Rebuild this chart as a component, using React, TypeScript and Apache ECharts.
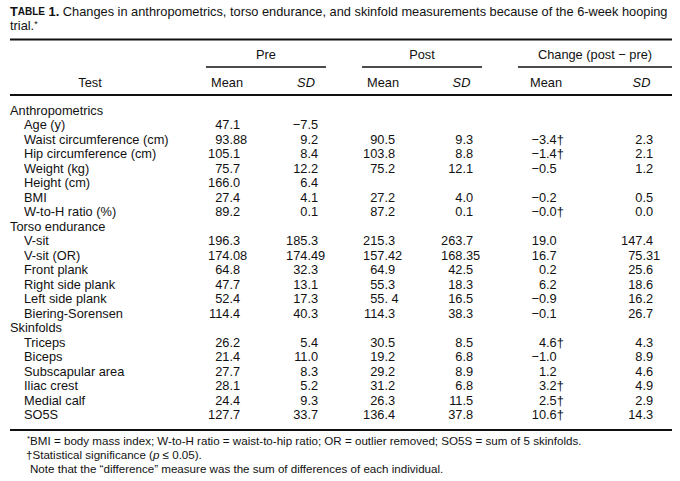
import React, { useEffect, useRef } from "react";
import * as echarts from "echarts";

// ---- Table data ----
const groupHeaders = ["Pre", "Post", "Change (post \u2212 pre)"];
const subHeaders = ["Mean", "SD", "Mean", "SD", "Mean", "SD"];

const rowLabels = [
  "Anthropometrics",
  "Age (y)",
  "Waist circumference (cm)",
  "Hip circumference (cm)",
  "Weight (kg)",
  "Height (cm)",
  "BMI",
  "W-to-H ratio (%)",
  "Torso endurance",
  "V-sit",
  "V-sit (OR)",
  "Front plank",
  "Right side plank",
  "Left side plank",
  "Biering-Sorensen",
  "Skinfolds",
  "Triceps",
  "Biceps",
  "Subscapular area",
  "Iliac crest",
  "Medial calf",
  "SO5S",
];
const sectionRows = [true, false, false, false, false, false, false, false, true, false, false, false, false, false, false, true, false, false, false, false, false, false];

const preMean = ["", "47.1", "93.88", "105.1", "75.7", "166.0", "27.4", "89.2", "", "196.3", "174.08", "64.8", "47.7", "52.4", "114.4", "", "26.2", "21.4", "27.7", "28.1", "24.4", "127.7"];
const preSD = ["", "\u22127.5", "9.2", "8.4", "12.2", "6.4", "4.1", "0.1", "", "185.3", "174.49", "32.3", "13.1", "17.3", "40.3", "", "5.4", "11.0", "8.3", "5.2", "9.3", "33.7"];
const postMean = ["", "", "90.5", "103.8", "75.2", "", "27.2", "87.2", "", "215.3", "157.42", "64.9", "55.3", "55. 4", "114.3", "", "30.5", "19.2", "29.2", "31.2", "26.3", "136.4"];
const postSD = ["", "", "9.3", "8.8", "12.1", "", "4.0", "0.1", "", "263.7", "168.35", "42.5", "18.3", "16.5", "38.3", "", "8.5", "6.8", "8.9", "6.8", "11.5", "37.8"];
const changeMean = ["", "", "\u22123.4\u2020", "\u22121.4\u2020", "\u22120.5", "", "\u22120.2", "\u22120.0\u2020", "", "19.0", "16.7", "0.2", "6.2", "\u22120.9", "\u22120.1", "", "4.6\u2020", "\u22121.0", "1.2", "3.2\u2020", "2.5\u2020", "10.6\u2020"];
const changeSD = ["", "", "2.3", "2.1", "1.2", "", "0.5", "0.0", "", "147.4", "75.31", "25.6", "18.6", "16.2", "26.7", "", "4.3", "8.9", "4.6", "4.9", "2.9", "14.3"];

const titleRest = " Changes in anthropometrics, torso endurance, and skinfold measurements because of the 6-week hooping";
const titleLine2 = "trial.";
const footnote1 = "BMI = body mass index; W-to-H ratio = waist-to-hip ratio; OR = outlier removed; SO5S = sum of 5 skinfolds.";
const footnote3 = "Note that the \u201cdifference\u201d measure was the sum of differences of each individual.";

// ---- Layout ----
const FONT = "'Liberation Sans', Arial, Helvetica, sans-serif";
const FS = 12.8;
const LEFT = 10;
const RIGHT = 672;
const ROW0 = 110;
const ROWH = 14.5;
const decX = [233, 311, 388, 466, 549.6, 646];
const subHeaderX = [227, 306, 383, 461.5, 546, 641.5];
const groupSpans: [number, number][] = [
  [206, 326],
  [362, 482],
  [518, 672],
];

function txt(text: string, x: number, y: number, align: string, extra: any = {}) {
  return {
    type: "text",
    silent: true,
    style: {
      text,
      x,
      y,
      align,
      verticalAlign: "middle",
      fontFamily: FONT,
      fontSize: FS,
      fill: "#111",
      ...extra,
    },
  };
}

function hline(x1: number, x2: number, y: number, w: number) {
  return {
    type: "line",
    silent: true,
    shape: { x1, y1: y, x2, y2: y },
    style: { stroke: "#111", lineWidth: w },
  };
}

function buildElements() {
  const els: any[] = [];
  // Title
  els.push({
    type: "text",
    silent: true,
    style: {
      text: "{b|T}{bs|ABLE}{b| 1.}{n|" + titleRest + "}",
      x: LEFT,
      y: 11.5,
      align: "left",
      verticalAlign: "middle",
      fontFamily: FONT,
      fontSize: FS,
      fill: "#111",
      rich: {
        b: { fontFamily: FONT, fontSize: FS, fontWeight: "bold", fill: "#111", lineHeight: 12 },
        bs: { fontFamily: FONT, fontSize: 10, fontWeight: "bold", fill: "#111", lineHeight: 12 },
        n: { fontFamily: FONT, fontSize: FS, fill: "#111", lineHeight: 12 },
      },
    },
  });
  els.push({
    type: "text",
    silent: true,
    style: {
      text: "{n|" + titleLine2 + "}{s|*}",
      x: LEFT,
      y: 25.5,
      align: "left",
      verticalAlign: "middle",
      fontFamily: FONT,
      fontSize: FS,
      fill: "#111",
      rich: {
        n: { fontFamily: FONT, fontSize: FS, fill: "#111", lineHeight: 12 },
        s: { fontFamily: FONT, fontSize: 9, fill: "#111", verticalAlign: "top", lineHeight: 12 },
      },
    },
  });

  // Rules
  els.push(hline(LEFT, RIGHT, 39.5, 2));
  groupSpans.forEach(([a, b]) => els.push(hline(a, b, 67, 1.5)));
  els.push(hline(LEFT, RIGHT, 95, 2));
  els.push(hline(LEFT, RIGHT, 430, 2));

  // Headers
  groupHeaders.forEach((h, i) => {
    const [a, b] = groupSpans[i];
    els.push(txt(h, (a + b) / 2, 54, "center"));
  });
  els.push(txt("Test", 90, 82, "center"));
  subHeaders.forEach((h, i) => {
    els.push(txt(h, subHeaderX[i], 82, "center", h === "SD" ? { fontStyle: "italic" } : {}));
  });

  // Body
  const cols = [preMean, preSD, postMean, postSD, changeMean, changeSD];
  rowLabels.forEach((lab, r) => {
    const y = ROW0 + r * ROWH;
    els.push(txt(lab, sectionRows[r] ? LEFT : 24, y, "left"));
    cols.forEach((col, c) => {
      const v = col[r];
      if (!v) return;
      const idx = v.indexOf(".");
      const left = idx >= 0 ? v.slice(0, idx + 1) : v;
      const right = idx >= 0 ? v.slice(idx + 1) : "";
      els.push(txt(left, decX[c], y, "right"));
      if (right) els.push(txt(right, decX[c], y, "left"));
    });
  });

  // Footnotes
  const FFS = 11.6;
  els.push({
    type: "text",
    silent: true,
    style: {
      text: "{s|*}{n|" + footnote1 + "}",
      x: 27,
      y: 440,
      align: "left",
      verticalAlign: "middle",
      fontFamily: FONT,
      fontSize: FFS,
      fill: "#111",
      rich: {
        s: { fontFamily: FONT, fontSize: 8, fill: "#111", verticalAlign: "top", lineHeight: 12 },
        n: { fontFamily: FONT, fontSize: FFS, fill: "#111", lineHeight: 12 },
      },
    },
  });
  els.push({
    type: "text",
    silent: true,
    style: {
      text: "{n|\u2020Statistical significance (}{i|p}{n| \u2264 0.05).}",
      x: 26,
      y: 454.5,
      align: "left",
      verticalAlign: "middle",
      fontFamily: FONT,
      fontSize: FFS,
      fill: "#111",
      rich: {
        n: { fontFamily: FONT, fontSize: FFS, fill: "#111", lineHeight: 12 },
        i: { fontFamily: FONT, fontSize: FFS, fontStyle: "italic", fill: "#111", lineHeight: 12 },
      },
    },
  });
  els.push(txt(footnote3, 30, 468.5, "left", { fontSize: FFS }));
  return els;
}

export default function App() {
  const ref = useRef<HTMLDivElement>(null);
  useEffect(() => {
    document.body.style.margin = "0";
    if (!ref.current) return;
    const chart = echarts.init(ref.current, undefined, { renderer: "svg" });
    chart.setOption({
      animation: false,
      backgroundColor: "#ffffff",
      graphic: { elements: buildElements() },
    });
    return () => chart.dispose();
  }, []);
  return <div ref={ref} style={{ width: 680, height: 481, position: "absolute", left: 0, top: 0 }} />;
}
